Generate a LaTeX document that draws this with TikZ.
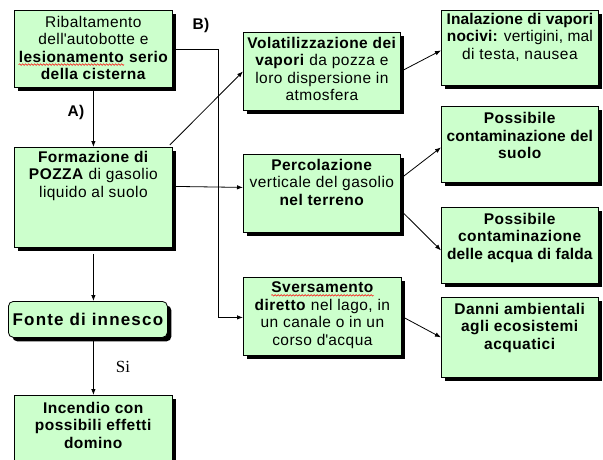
\documentclass[tikz,border=0pt]{standalone}
\usepackage{fontspec}
\setmainfont{Liberation Sans}[LetterSpace=3]
\newfontfamily\serifsi{Liberation Serif}
\usetikzlibrary{shadows,arrows.meta,decorations.pathmorphing}
\definecolor{gfill}{RGB}{204,255,204}
\newcommand\redwave[1]{\tikz[baseline=(w.base)]{\node[inner sep=0pt] (w) {#1};
  \draw[red, line width=0.5pt, decorate, decoration={snake, amplitude=0.8pt, segment length=3pt}]
  ([yshift=-2.5pt]w.base west) -- ([yshift=-2.5pt]w.base east);}}
\newcommand\fitline[1]{\makebox[\linewidth]{\addfontfeature{LetterSpace=1}#1}}
\newcommand\bx[7]{%
  \node[gbox, anchor=north west] (#1) at (#2,#3)
  {\parbox[t][#5pt][t]{#4pt}{\centering\rule{0pt}{#6pt}#7}};}
\tikzset{
  gbox/.style={draw=black, line width=0.8pt, fill=gfill, inner sep=0pt,
    drop shadow={shadow xshift=4pt, shadow yshift=-4pt, opacity=1, fill=black}},
  conn/.style={draw=black, line width=0.8pt},
  arr/.style={conn, -{Latex[length=6pt,width=4.5pt]}},
  lbl/.style={font=\fontsize{15.5}{17.5}\selectfont\bfseries, inner sep=0pt}
}
\begin{document}
\begin{tikzpicture}[x=1pt, y=-1pt, font=\fontsize{15.5}{17.5}\selectfont]
\clip (0,0) rectangle (603,459);
\fill[white] (0,0) rectangle (603,459);
% left column
\bx{rib}{14}{10}{158}{77}{16.7}{Ribaltamento\\dell\textquotesingle autobotte e\\\textbf{\redwave{lesionamento}} \textbf{serio}\\\textbf{della cisterna}}
\bx{form}{14}{147}{158}{100}{14.7}{\textbf{Formazione di}\\\textbf{POZZA} di gasolio\\liquido al suolo}
\node[gbox, rounded corners=5pt, anchor=north west, minimum width=159pt, minimum height=36pt]
  (fonte) at (8,301) {\fontsize{17}{20}\selectfont\addfontfeature{LetterSpace=7}\bfseries Fonte di innesco};
\bx{inc}{14}{395}{158}{80}{18}{\textbf{Incendio con}\\\textbf{possibili effetti}\\\textbf{domino}}
% middle column
\bx{vol}{243}{32}{157}{78}{16}{\textbf{Volatilizzazione dei}\\\textbf{vapori} da pozza e\\loro dispersione in\\atmosfera}
\bx{perc}{243}{154}{157}{78}{16}{\textbf{Percolazione}\\verticale del gasolio\\\textbf{nel terreno}}
\bx{sver}{243}{277}{158}{78}{15.4}{\textbf{\redwave{Sversamento}}\\\textbf{diretto} nel lago, in\\un canale o in un\\corso d\textquotesingle acqua}
% right column
\bx{inal}{441}{10}{157}{75}{14}{\fitline{\textbf{Inalazione di vapori}}\\\fitline{\textbf{nocivi:} vertigini, mal}\\di testa, nausea}
\bx{suolo}{441}{106}{157}{76}{17.4}{\textbf{Possibile}\\\fitline{\textbf{contaminazione del}}\\\textbf{suolo}}
\bx{acqua}{441}{207}{157}{76}{16.7}{\textbf{Possibile}\\\textbf{contaminazione}\\\fitline{\textbf{delle acqua di falda}}}
\bx{danni}{441}{297}{157}{80}{16.7}{\textbf{Danni ambientali}\\\textbf{agli ecosistemi}\\\textbf{acquatici}}
% labels
\node[lbl] (la) at (76,112) {A)};
\node[lbl] (lb) at (201,25) {B)};
\node[inner sep=0pt, font=\serifsi\fontsize{17}{20}\selectfont] (si) at (123,367) {Si};
% connectors
\draw[arr] (rib.south) -- (form.north);
\draw[arr] (rib.east) -- ++(46,0) |- ([yshift=-1pt]sver.west);
\draw[arr] ([yshift=11pt]form.east) -- ([yshift=6pt]perc.west);
\draw[arr] ([shift={(-3pt,2pt)}]form.north east) -- (vol.west);
\draw[arr, shorten <=6pt] (form.south) -- (form.south |- fonte.north);
\draw[arr] (form.south |- fonte.south) -- (form.south |- inc.north);
\draw[arr] (vol.east) -- ([yshift=-2.5pt]inal.west);
\draw[arr] ([yshift=15pt]perc.east) -- ([yshift=-3pt]suolo.west);
\draw[arr] ([yshift=-17pt]perc.east) -- ([yshift=-5pt]acqua.west);
\draw[arr] (sver.east) -- (danni.west);
\end{tikzpicture}
\end{document}
